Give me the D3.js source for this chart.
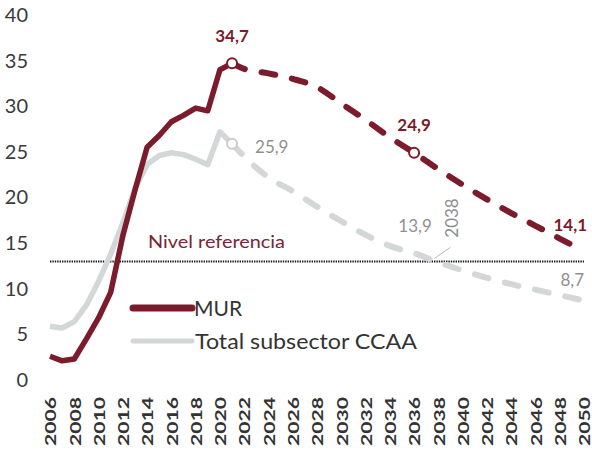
<!DOCTYPE html>
<html lang="es">
<head>
<meta charset="UTF-8">
<title>MUR vs Total subsector CCAA</title>
<style>
  body { margin: 0; background: #fff; }
  svg { display: block; font-family: Lato, "Open Sans", sans-serif; }
</style>
<script src="https://d3js.org/d3.v7.min.js"></script>
</head>
<body>
<svg width="592" height="455"></svg>
<script>
// observed series (2006-2021)
const histYears = d3.range(2006, 2022);
const murHist = [2.6, 2.1, 2.3, 4.5, 6.8, 9.6, 15.8, 20.8, 25.5, 26.8, 28.3, 29.0, 29.8, 29.5, 34.0, 34.7];
const ccaaHist = [5.9, 5.7, 6.4, 8.2, 10.8, 13.8, 17.2, 21.0, 23.6, 24.6, 24.9, 24.7, 24.2, 23.6, 27.2, 25.9];

// projection (2021-2050)
const projYears = [2021, 2022, 2024, 2026, 2028, 2030, 2032, 2034, 2036, 2038, 2040, 2042, 2044, 2046, 2048, 2050];
const murProj = [34.7, 34.1, 33.6, 33.0, 32.1, 30.3, 28.5, 26.6, 24.9, 23.1, 21.4, 19.8, 18.3, 16.9, 15.5, 14.1];
const ccaaProj = [25.9, 24.5, 22.2, 20.7, 19.0, 17.4, 15.9, 14.7, 13.9, 12.9, 12.0, 11.2, 10.5, 9.9, 9.3, 8.7];

const refLevel = 13;
const yTicks = [0, 5, 10, 15, 20, 25, 30, 35, 40];
const xTicks = d3.range(2006, 2051, 2);

const murColor = "#7b1b2b";
const ccaaColor = "#d3d7d8";

const svg = d3.select("svg");

const x = d3.scaleLinear().domain([2006, 2050]).range([50, 584]);
const y = d3.scaleLinear().domain([0, 40]).range([380, 15]);

// y axis labels only
const yAxis = svg.append("g")
    .attr("transform", "translate(30,0)")
    .call(d3.axisLeft(y).tickValues(yTicks).tickSize(0).tickPadding(2));
yAxis.select(".domain").remove();
yAxis.selectAll("text")
    .attr("font-family", "Lato, sans-serif")
    .attr("font-size", 20)
    .attr("fill", "#3a3a3a");

// x axis labels, vertical
const xAxis = svg.append("g")
    .attr("transform", "translate(0,397)")
    .call(d3.axisBottom(x).tickValues(xTicks).tickFormat(d3.format("d")).tickSize(0));
xAxis.select(".domain").remove();
xAxis.selectAll("text")
    .attr("transform", "rotate(-90)")
    .attr("text-anchor", "end")
    .attr("x", 0)
    .attr("y", 0)
    .attr("dy", "0.36em")
    .attr("font-family", "Lato, sans-serif")
    .attr("font-size", 16)
    .attr("font-weight", 700)
    .attr("textLength", 49)
    .attr("lengthAdjust", "spacingAndGlyphs")
    .attr("fill", "#333");

// reference level
svg.append("line")
    .attr("x1", x(2006)).attr("x2", x(2050))
    .attr("y1", y(refLevel)).attr("y2", y(refLevel))
    .attr("stroke", "#1a1a1a")
    .attr("stroke-width", 2)
    .attr("stroke-dasharray", "1.4,1");

svg.append("text")
    .attr("x", 148).attr("y", y(refLevel) - 13)
    .attr("font-size", 18)
    .attr("textLength", 137)
    .attr("lengthAdjust", "spacingAndGlyphs")
    .attr("fill", "#7a2535")
    .text("Nivel referencia");

const line = d3.line().x(d => x(d[0])).y(d => y(d[1]));
const smooth = d3.line().x(d => x(d[0])).y(d => y(d[1])).curve(d3.curveMonotoneX);

function drawSeries(years, vals, color, dashed, lineFn) {
    svg.append("path")
        .datum(years.map((yr, i) => [yr, vals[i]]))
        .attr("fill", "none")
        .attr("stroke", color)
        .attr("stroke-width", dashed ? 6 : 5.5)
        .attr("stroke-linecap", dashed ? "round" : "butt")
        .attr("stroke-linejoin", "round")
        .attr("stroke-dasharray", dashed ? "14,17" : null)
        .attr("d", lineFn);
}

drawSeries(histYears, ccaaHist, ccaaColor, false, line);
drawSeries(projYears, ccaaProj, ccaaColor, true, smooth);
drawSeries(histYears, murHist, murColor, false, line);
drawSeries(projYears, murProj, murColor, true, smooth);

// markers
function marker(yr, v, color) {
    svg.append("circle")
        .attr("cx", x(yr)).attr("cy", y(v)).attr("r", 5)
        .attr("fill", "#fff")
        .attr("stroke", color)
        .attr("stroke-width", 2);
}
marker(2021, 34.7, murColor);
marker(2036, 24.9, murColor);
marker(2021, 25.9, "#c8cccd");

// value labels
function label(yr, v, txt, color, weight, anchor, dx, dy) {
    svg.append("text")
        .attr("x", x(yr) + dx).attr("y", y(v) + dy)
        .attr("text-anchor", anchor)
        .attr("font-size", 17)
        .attr("font-weight", weight)
        .attr("fill", color)
        .text(txt);
}
label(2021, 34.7, "34,7", murColor, 700, "middle", 0, -21);
label(2036, 24.9, "24,9", murColor, 700, "middle", 0, -22);
label(2050, 14.1, "14,1", murColor, 700, "end", 3, -20);
label(2021, 25.9, "25,9", "#8f8f8f", 400, "start", 23, 9);
label(2036, 13.9, "13,9", "#8f8f8f", 400, "middle", 1, -21);
label(2050, 8.7, "8,7", "#8f8f8f", 400, "end", 0, -15);

// 2038 crossing note
svg.append("line")
    .attr("x1", x(2038) - 4).attr("y1", y(refLevel) - 3)
    .attr("x2", x(2038) + 12).attr("y2", y(refLevel) - 14)
    .attr("stroke", "#b8b8b8").attr("stroke-width", 1);
svg.append("text")
    .attr("transform", `translate(${x(2038) + 14},218) rotate(-90)`)
    .attr("text-anchor", "middle")
    .attr("dy", "0.35em")
    .attr("font-size", 17)
    .attr("fill", "#8f8f8f")
    .text("2038");

// legend
const legend = svg.append("g");
legend.append("line")
    .attr("x1", 133).attr("x2", 192).attr("y1", 308).attr("y2", 308)
    .attr("stroke", murColor).attr("stroke-width", 7).attr("stroke-linecap", "round");
legend.append("text")
    .attr("x", 194).attr("y", 316)
    .attr("font-size", 21).attr("fill", "#333")
    .text("MUR");
legend.append("line")
    .attr("x1", 133).attr("x2", 192).attr("y1", 341).attr("y2", 341)
    .attr("stroke", ccaaColor).attr("stroke-width", 5).attr("stroke-linecap", "round");
legend.append("text")
    .attr("x", 195).attr("y", 349)
    .attr("font-size", 21)
    .attr("textLength", 222)
    .attr("lengthAdjust", "spacingAndGlyphs")
    .attr("fill", "#333")
    .text("Total subsector CCAA");
</script>
</body>
</html>
